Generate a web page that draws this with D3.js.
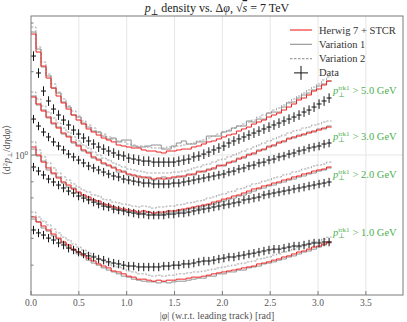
<!DOCTYPE html>
<html><head><meta charset="utf-8">
<script src="https://cdn.jsdelivr.net/npm/d3@7"></script>
<style>body{margin:0;background:#fff} svg{display:block}</style>
</head><body>
<svg id="chart" width="407" height="322" font-family="'Liberation Serif', 'DejaVu Serif', serif"></svg>
<script>
// ---------------- data ----------------
const nBins = 60;                       // bins over |phi| in [0, pi]
const xTicks = [0, 0.5, 1.0, 1.5, 2.0, 2.5, 3.0, 3.5];
const xTickLabels = ["0.0","0.5","1.0","1.5","2.0","2.5","3.0","3.5"];
const yMinorTicks = [0.4,0.5,0.6,0.7,0.8,0.9,2,3];
const cuts = ["1.0","2.0","3.0","5.0"];
const labelPos = [0.523, 0.847, 1.162, 1.703];
const dataErrFrac = [0.035, 0.035, 0.035, 0.04];

// pT > 1 GeV
const data1 = [.536,.523,.514,.501,.493,.481,.473,.461,.454,.446,.439,.432,.428,.421,.417,.411,.407,.404,.400,.397,.397,.394,.394,.394,.394,.394,.397,.397,.400,.400,.404,.404,.407,.411,.414,.414,.417,.421,.424,.428,.428,.432,.435,.439,.442,.446,.450,.454,.457,.457,.461,.465,.469,.469,.473,.477,.481,.481,.485,.485];
const herwig1 = [.597,.573,.554,.536,.518,.501,.485,.473,.457,.446,.435,.424,.414,.404,.397,.391,.381,.378,.372,.365,.362,.356,.356,.353,.350,.353,.350,.353,.353,.356,.356,.359,.362,.362,.365,.368,.372,.375,.378,.381,.384,.387,.391,.394,.397,.404,.407,.411,.417,.421,.428,.432,.439,.446,.450,.457,.465,.469,.477,.485];
const var1_1 = [.587,.573,.545,.531,.510,.497,.481,.465,.454,.439,.432,.417,.407,.400,.391,.384,.378,.372,.365,.362,.356,.353,.350,.348,.348,.345,.348,.345,.348,.350,.350,.353,.356,.359,.359,.365,.365,.372,.372,.378,.378,.384,.384,.391,.394,.397,.404,.407,.411,.417,.421,.428,.432,.439,.446,.450,.457,.465,.473,.481];
const var2_1 = [.622,.597,.577,.559,.540,.523,.505,.493,.477,.465,.454,.442,.432,.421,.414,.407,.397,.394,.387,.381,.378,.372,.372,.368,.365,.368,.365,.368,.368,.372,.372,.375,.378,.378,.381,.384,.387,.391,.394,.397,.400,.404,.407,.411,.414,.421,.424,.428,.435,.439,.446,.450,.457,.465,.469,.477,.485,.489,.497,.505];

// pT > 2 GeV
const data2 = [.905,.875,.847,.819,.799,.779,.760,.741,.729,.711,.699,.688,.676,.665,.654,.649,.638,.633,.628,.622,.617,.612,.612,.607,.607,.607,.607,.612,.612,.617,.617,.622,.628,.633,.638,.643,.649,.654,.660,.665,.671,.676,.688,.693,.699,.705,.717,.723,.729,.735,.741,.747,.754,.760,.766,.773,.779,.786,.792,.799];
const herwig2 = [1.069,1.000,.943,.898,.861,.826,.799,.779,.754,.735,.717,.705,.688,.682,.665,.660,.649,.643,.638,.633,.628,.622,.628,.622,.617,.622,.622,.628,.628,.633,.638,.643,.649,.654,.660,.665,.676,.682,.693,.699,.711,.717,.729,.741,.754,.760,.773,.779,.792,.799,.812,.819,.833,.840,.854,.861,.875,.883,.890,.905];
const var1_2 = [1.051,.992,.951,.883,.854,.833,.792,.766,.760,.729,.711,.693,.688,.671,.665,.649,.649,.633,.633,.622,.628,.617,.617,.622,.612,.617,.612,.622,.622,.628,.628,.638,.643,.643,.654,.660,.665,.676,.682,.693,.699,.711,.717,.729,.741,.754,.760,.773,.779,.792,.799,.812,.819,.833,.840,.854,.861,.875,.883,.898];
const var2_2 = [1.115,1.043,.984,.936,.898,.861,.833,.812,.786,.766,.747,.735,.717,.711,.693,.688,.676,.671,.665,.660,.654,.649,.654,.649,.643,.649,.649,.654,.654,.660,.665,.671,.676,.682,.688,.699,.705,.717,.723,.735,.741,.754,.760,.773,.786,.792,.805,.812,.826,.833,.847,.854,.868,.875,.890,.898,.913,.920,.928,.943];

// pT > 3 GeV
const data3 = [1.349,1.273,1.211,1.162,1.115,1.078,1.043,1.008,.984,.959,.936,.913,.898,.883,.868,.854,.840,.833,.819,.812,.805,.799,.792,.792,.786,.786,.786,.786,.792,.792,.799,.805,.812,.819,.826,.833,.840,.847,.854,.868,.875,.890,.898,.913,.920,.936,.943,.959,.967,.984,.992,1.008,1.017,1.034,1.043,1.060,1.069,1.078,1.096,1.105];
const herwig3 = [1.620,1.529,1.442,1.372,1.305,1.252,1.201,1.162,1.115,1.078,1.043,1.017,.984,.959,.936,.920,.898,.883,.868,.854,.847,.833,.833,.826,.819,.826,.819,.826,.833,.833,.840,.847,.854,.868,.875,.883,.898,.913,.920,.936,.951,.967,.984,1.000,1.017,1.034,1.051,1.069,1.087,1.105,1.124,1.143,1.162,1.171,1.191,1.201,1.221,1.231,1.252,1.262];
const var1_3 = [1.634,1.516,1.454,1.361,1.294,1.262,1.191,1.171,1.105,1.087,1.034,1.025,.975,.967,.928,.913,.905,.868,.875,.847,.840,.840,.826,.833,.812,.819,.833,.819,.826,.840,.833,.854,.847,.875,.868,.890,.890,.920,.913,.943,.943,.975,.975,1.008,1.008,1.043,1.043,1.078,1.078,1.115,1.115,1.152,1.152,1.181,1.181,1.211,1.211,1.242,1.242,1.273];
const var2_3 = [1.689,1.594,1.504,1.430,1.361,1.305,1.252,1.211,1.162,1.124,1.087,1.060,1.025,1.000,.975,.959,.936,.920,.905,.890,.883,.875,.868,.861,.861,.861,.861,.861,.868,.868,.875,.883,.898,.905,.920,.928,.943,.959,.967,.984,1.000,1.017,1.034,1.051,1.069,1.087,1.105,1.124,1.143,1.162,1.181,1.201,1.221,1.231,1.252,1.262,1.284,1.294,1.316,1.327];

// pT > 5 GeV
const data4 = [2.279,1.979,1.703,1.568,1.466,1.395,1.338,1.284,1.231,1.191,1.152,1.124,1.096,1.069,1.051,1.034,1.017,1.000,.992,.975,.967,.959,.951,.951,.943,.943,.943,.943,.943,.951,.959,.967,.984,.992,1.008,1.025,1.043,1.060,1.078,1.105,1.124,1.143,1.162,1.181,1.201,1.221,1.242,1.262,1.284,1.305,1.327,1.349,1.372,1.395,1.430,1.454,1.491,1.529,1.568,1.607];
const herwig4 = [2.737,2.356,2.097,1.898,1.746,1.634,1.542,1.466,1.395,1.338,1.294,1.242,1.211,1.181,1.152,1.133,1.115,1.087,1.078,1.069,1.060,1.060,1.043,1.034,1.034,1.025,1.017,1.034,1.034,1.043,1.051,1.051,1.069,1.078,1.096,1.115,1.124,1.143,1.162,1.181,1.191,1.221,1.242,1.262,1.294,1.316,1.338,1.372,1.395,1.418,1.454,1.491,1.529,1.581,1.607,1.648,1.703,1.732,1.791,1.851];
const var1_4 = [2.783,2.416,2.080,1.930,1.746,1.675,1.555,1.491,1.395,1.372,1.305,1.262,1.221,1.211,1.171,1.143,1.152,1.115,1.133,1.133,1.078,1.069,1.069,1.078,1.087,1.087,1.051,1.051,1.078,1.105,1.124,1.096,1.096,1.115,1.115,1.171,1.171,1.171,1.211,1.221,1.252,1.273,1.273,1.327,1.316,1.349,1.349,1.418,1.430,1.430,1.491,1.542,1.555,1.607,1.648,1.675,1.718,1.776,1.806,1.851];
const var2_4 = [2.901,2.457,2.168,1.962,1.806,1.689,1.594,1.504,1.442,1.384,1.327,1.284,1.252,1.211,1.191,1.162,1.143,1.124,1.115,1.096,1.087,1.078,1.078,1.069,1.060,1.060,1.060,1.069,1.069,1.078,1.087,1.096,1.105,1.124,1.133,1.152,1.171,1.191,1.211,1.231,1.252,1.273,1.294,1.316,1.338,1.372,1.395,1.418,1.454,1.479,1.516,1.555,1.594,1.634,1.675,1.718,1.761,1.806,1.867,1.914];

const dataSets   = [data1, data2, data3, data4];
const herwigSets = [herwig1, herwig2, herwig3, herwig4];
const var1Sets   = [var1_1, var1_2, var1_3, var1_4];
const var2Sets   = [var2_1, var2_2, var2_3, var2_4];

// ---------------- drawing ----------------
const svg = d3.select("#chart");
const W = 407, H = 322;
const m = {l: 31, r: 4, t: 16, b: 27};
const x = d3.scaleLinear().domain([0, 3.888]).range([m.l, W - m.r]);
const y = d3.scaleLog().domain([0.312, 3.18]).range([H - m.b, m.t]);
const edges = d3.range(nBins + 1).map(i => i * Math.PI / nBins);

const textCol = "#555", frameCol = "#7a7a7a", gridCol = "#e6e6e6";
const redCol = "#ee2222", v1Col = "#909090", v2Col = "#a0a0a0";

// grid
const g = svg.append("g");
g.selectAll("line.gx").data(xTicks.slice(1)).join("line")
  .attr("x1", d => x(d)).attr("x2", d => x(d))
  .attr("y1", m.t).attr("y2", H - m.b)
  .attr("stroke", gridCol).attr("stroke-width", 1);
g.append("line").attr("x1", m.l).attr("x2", W - m.r)
  .attr("y1", y(1)).attr("y2", y(1)).attr("stroke", gridCol);

// series
const plot = svg.append("g");
const stepLine = d3.line().x(d => x(d[0])).y(d => y(d[1])).curve(d3.curveStepAfter);
function stepPts(vals) {
  const p = vals.map((v, i) => [edges[i], v]);
  p.push([edges[vals.length], vals[vals.length - 1]]);
  return p;
}
for (let k = 0; k < 4; k++) {
  plot.append("path").attr("d", stepLine(stepPts(var2Sets[k])))
    .attr("fill", "none").attr("stroke", v2Col).attr("stroke-width", 0.9).attr("stroke-dasharray", "2.5,1.5");
  plot.append("path").attr("d", stepLine(stepPts(var1Sets[k])))
    .attr("fill", "none").attr("stroke", v1Col).attr("stroke-width", 1);
  plot.append("path").attr("d", stepLine(stepPts(herwigSets[k])))
    .attr("fill", "none").attr("stroke", redCol).attr("stroke-width", 1);
}
for (let k = 0; k < 4; k++) {
  const e = dataErrFrac[k];
  const dg = plot.append("g").attr("stroke", "#111").attr("stroke-width", 1);
  dataSets[k].forEach((v, i) => {
    dg.append("line").attr("x1", x(edges[i])).attr("x2", x(edges[i + 1]))
      .attr("y1", y(v)).attr("y2", y(v));
    const xc = x((edges[i] + edges[i + 1]) / 2);
    dg.append("line").attr("x1", xc).attr("x2", xc)
      .attr("y1", y(v * (1 + e))).attr("y2", y(v * (1 - e)));
  });
}

// frame
svg.append("rect").attr("x", m.l).attr("y", m.t)
  .attr("width", W - m.r - m.l).attr("height", H - m.b - m.t)
  .attr("fill", "none").attr("stroke", frameCol).attr("stroke-width", 1);

// x ticks
svg.selectAll("line.xt").data(xTicks).join("line")
  .attr("x1", d => x(d)).attr("x2", d => x(d))
  .attr("y1", H - m.b).attr("y2", H - m.b - 4).attr("stroke", frameCol);
svg.selectAll("text.xl").data(xTicks).join("text")
  .attr("x", d => x(d)).attr("y", H - m.b + 10.5)
  .attr("text-anchor", "middle").attr("font-size", 9.5).attr("fill", textCol)
  .text((d, i) => xTickLabels[i]);

// y ticks
svg.selectAll("line.ym").data(yMinorTicks).join("line")
  .attr("x1", m.l).attr("x2", m.l + 2.5).attr("y1", d => y(d)).attr("y2", d => y(d))
  .attr("stroke", frameCol);
svg.append("line").attr("x1", m.l).attr("x2", m.l + 5).attr("y1", y(1)).attr("y2", y(1)).attr("stroke", frameCol);
const yl = svg.append("text").attr("x", m.l - 3).attr("y", y(1) + 3.5)
  .attr("text-anchor", "end").attr("font-size", 9.5).attr("fill", textCol);
yl.append("tspan").text("10");
yl.append("tspan").attr("dy", -4).attr("font-size", 7).text("0");

// title
const t = svg.append("text").attr("x", 217).attr("y", 12).attr("text-anchor", "middle")
  .attr("font-size", 12).attr("fill", "#222");
t.append("tspan").attr("font-style", "italic").text("p");
t.append("tspan").attr("dy", 2.5).attr("font-size", 8).text("⊥");
t.append("tspan").attr("dy", -2.5).text(" density vs. Δ");
t.append("tspan").attr("font-style", "italic").text("φ");
t.append("tspan").text(", √");
t.append("tspan").attr("font-style", "italic").attr("text-decoration", "overline").text("s");
t.append("tspan").text(" = 7 TeV");

// x label
const xl = svg.append("text").attr("x", 217).attr("y", H - 3).attr("text-anchor", "middle")
  .attr("font-size", 10).attr("fill", textCol);
xl.append("tspan").text("|");
xl.append("tspan").attr("font-style", "italic").text("φ");
xl.append("tspan").text("| (w.r.t. leading track) [rad]");

// y label
const ylab = svg.append("text").attr("transform", `translate(10,${y(1) - 5}) rotate(-90)`)
  .attr("text-anchor", "middle").attr("font-size", 10).attr("fill", textCol);
ylab.append("tspan").text("⟨d");
ylab.append("tspan").attr("dy", -3.5).attr("font-size", 6.5).text("2");
ylab.append("tspan").attr("dy", 3.5).attr("font-style", "italic").text("p");
ylab.append("tspan").attr("dy", 2).attr("font-size", 6.5).text("⊥");
ylab.append("tspan").attr("dy", -2).text("/d");
ylab.append("tspan").attr("font-style", "italic").text("η");
ylab.append("tspan").text("d");
ylab.append("tspan").attr("font-style", "italic").text("φ");
ylab.append("tspan").text("⟩");

// legend
const legItems = [
  {name: "Herwig 7 + STCR", type: "line", color: redCol, dash: null},
  {name: "Variation 1", type: "line", color: v1Col, dash: null},
  {name: "Variation 2", type: "line", color: v2Col, dash: "2.5,1.5"},
  {name: "Data", type: "cross", color: "#111", dash: null}
];
const lg = svg.append("g");
legItems.forEach((it, i) => {
  const yy = 30 + i * 14.3;
  if (it.type === "line") {
    lg.append("line").attr("x1", 290).attr("x2", 312).attr("y1", yy).attr("y2", yy)
      .attr("stroke", it.color).attr("stroke-width", 1.1).attr("stroke-dasharray", it.dash);
  } else {
    lg.append("line").attr("x1", 294).attr("x2", 308).attr("y1", yy).attr("y2", yy).attr("stroke", it.color);
    lg.append("line").attr("x1", 301).attr("x2", 301).attr("y1", yy - 7).attr("y2", yy + 7).attr("stroke", it.color);
  }
  lg.append("text").attr("x", 319).attr("y", yy + 3.5).attr("font-size", 10.5).attr("fill", "#333").text(it.name);
});

// group labels
const green = "#4caf50";
cuts.forEach((c, k) => {
  const yy = y(labelPos[k]) + 3;
  const x0 = 333;
  const p = svg.append("text").attr("x", x0).attr("y", yy).attr("font-size", 10.5)
    .attr("fill", green).attr("font-style", "italic").text("p");
  const pw = p.node().getComputedTextLength();
  svg.append("text").attr("x", x0 + pw).attr("y", yy + 2.5).attr("font-size", 7).attr("fill", green).text("⊥");
  const sup = svg.append("text").attr("x", x0 + pw).attr("y", yy - 4).attr("font-size", 7).attr("fill", green).text("trk1");
  const sw = sup.node().getComputedTextLength();
  svg.append("text").attr("x", x0 + pw + sw + 3).attr("y", yy).attr("font-size", 10.5)
    .attr("fill", green).text("> " + c + " GeV");
});
</script>
</body></html>
